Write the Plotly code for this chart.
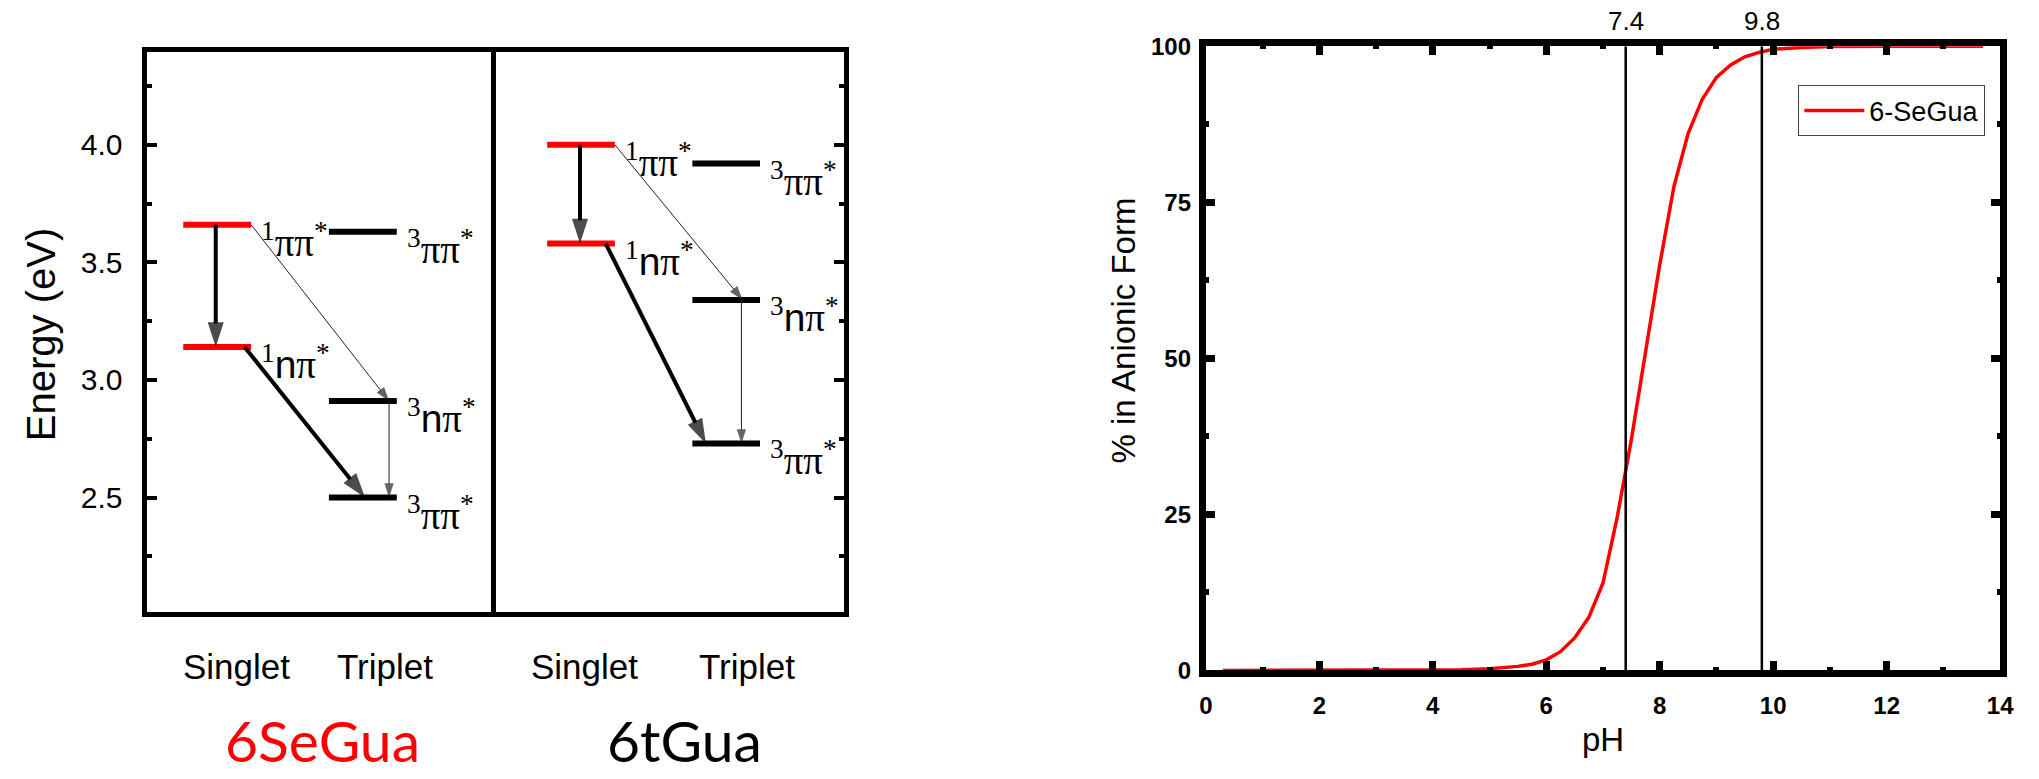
import plotly.graph_objects as go

# ---------------- data ----------------
columns = ["Singlet", "Triplet"]
compounds = ["6SeGua", "6tGua"]

# state labels: (multiplicity, kind)
singlet_states = [("1", "pp"), ("1", "np")]
triplet_states = [("3", "pp"), ("3", "np"), ("3", "pp")]

# energies (eV)
seg_singlet_E = [3.66, 3.14]
seg_triplet_E = [3.63, 2.91, 2.50]
tg_singlet_E = [4.00, 3.58]
tg_triplet_E = [3.92, 3.34, 2.73]

# transitions: (from column, from index, to column, to index, kind)
transitions = [
    ("S", 0, "S", 1, "thick"),
    ("S", 0, "T", 1, "thin"),
    ("T", 1, "T", 2, "thin"),
    ("S", 1, "T", 2, "thick"),
]

# pH curve
ph = [0.3, 1.0, 2.0, 3.0, 4.0, 4.5, 5.0, 5.25, 5.5, 5.75, 6.0, 6.25, 6.5, 6.75,
      7.0, 7.25, 7.5, 7.75, 8.0, 8.25, 8.5, 8.75, 9.0, 9.25, 9.5, 9.75, 10.0,
      10.5, 11.0, 12.0, 13.0, 13.7]
pct_anionic = [0.0, 0.0, 0.0, 0.0, 0.05, 0.12, 0.25, 0.4, 0.65, 1.0, 1.7, 3.0,
               5.2, 8.5, 14.0, 24.5, 37.0, 51.0, 65.0, 77.5, 86.0, 91.5, 95.0,
               97.0, 98.3, 99.0, 99.5, 99.8, 99.95, 100.0, 100.0, 100.0]
ref_ph = [7.4, 9.8]
ph_ticks = [0, 2, 4, 6, 8, 10, 12, 14]
pct_ticks = [0, 25, 50, 75, 100]
energy_ticks = [2.5, 3.0, 3.5, 4.0]

# ---------------- styling ----------------
W, H = 2039, 779
SANS = "Liberation Sans, Arial, sans-serif"
SERIF = "Liberation Serif, Times New Roman, serif"


def fx(p):
    return p / W


def fy(p):
    return 1 - p / H


HALF = 0.233  # half width of an energy level (column units)
panels = [
    dict(xa="x", ya="y", S=seg_singlet_E, T=seg_triplet_E,
         # arrow x-offsets (column units) for each transition: (start, end)
         offs=[(-0.01, -0.01), (HALF, 0.18), (0.18, 0.18), (0.188, 0.015)],
         lab_off=(0.13, 0.153), name_color="red", name_x=318.5),
    dict(xa="x2", ya="y2", S=tg_singlet_E, T=tg_triplet_E,
         offs=[(-0.007, -0.007), (HALF, 0.113), (0.105, 0.105), (0.17, -0.14)],
         lab_off=(0.024, 0.145), name_color="black", name_x=685),
]
col_x = {"S": 1.0, "T": 2.0}

fig = go.Figure()
annotations = []


def label_html(mult, kind):
    if kind == "pp":
        core = "ππ"
    else:
        core = "<span style='font-family:Liberation Sans'>n</span>π"
    return f"<sup>{mult}</sup>{core}<sup>*</sup>"


for pi, p in enumerate(panels):
    # energy levels
    for col, states, color in (("S", singlet_states, "red"), ("T", triplet_states, "black")):
        for k, (mult, kind) in enumerate(states):
            E = p[col][k]
            xc = col_x[col]
            fig.add_trace(go.Scatter(
                x=[xc - HALF, xc + HALF], y=[E, E], mode="lines",
                line=dict(color=color, width=6), xaxis=p["xa"], yaxis=p["ya"],
                showlegend=False, hoverinfo="skip"))
            annotations.append(dict(
                x=xc + HALF, y=E, xref=p["xa"], yref=p["ya"], xanchor="left",
                yanchor="middle", xshift=8, yshift=-15, showarrow=False,
                text=label_html(mult, kind),
                font=dict(family=SERIF, size=39, color="black")))
    # transitions
    for (c0, i0, c1, i1, kind), (o0, o1) in zip(transitions, p["offs"]):
        x0, y0 = col_x[c0] + o0, p[c0][i0]
        x1, y1 = col_x[c1] + o1, p[c1][i1]
        thick = kind == "thick"
        color = "black" if thick else "#222222"
        fig.add_trace(go.Scatter(
            x=[x0, x1], y=[y0, y1], mode="lines+markers",
            line=dict(color=color, width=4 if thick else 1),
            marker=dict(symbol="arrow", angleref="previous",
                        size=[0, 26 if thick else 15], color=color,
                        line=dict(width=0)),
            xaxis=p["xa"], yaxis=p["ya"], showlegend=False, hoverinfo="skip"))
    # column labels
    for ci, cname in enumerate(columns):
        annotations.append(dict(
            x=1.0 + ci + p["lab_off"][ci], y=fy(676), xref=p["xa"], yref="paper",
            xanchor="center", yanchor="middle", showarrow=False, text=cname,
            font=dict(family=SANS, size=35, color="black")))
    annotations.append(dict(
        x=fx(p["name_x"]), y=fy(752), xref="paper", yref="paper",
        xanchor="center", yanchor="middle", showarrow=False, text=compounds[pi],
        font=dict(family="Lato", size=57, color=p["name_color"])))

annotations.append(dict(
    x=fx(35), y=fy(332), xref="paper", yref="paper", textangle=-90,
    xanchor="center", yanchor="middle", showarrow=False, text="Energy (eV)",
    font=dict(family=SANS, size=40, color="black")))

# ---------------- pH chart ----------------
fig.add_trace(go.Scatter(
    x=ph, y=pct_anionic, mode="lines", name="6-SeGua",
    line=dict(color="#ff0000", width=3.5), xaxis="x3", yaxis="y3"))
for v in ref_ph:
    fig.add_trace(go.Scatter(
        x=[v, v], y=[0, 100], mode="lines", line=dict(color="black", width=2.5),
        xaxis="x3", yaxis="y3", showlegend=False, hoverinfo="skip"))
    annotations.append(dict(
        x=v, y=1, xref="x3", yref="y3 domain", xanchor="center", yanchor="bottom",
        yshift=8, showarrow=False, text=f"{v:.1f}",
        font=dict(family=SANS, size=26, color="black")))

annotations.append(dict(
    x=fx(1612.6), y=fy(752), xref="paper", yref="paper", xanchor="center",
    yanchor="middle", showarrow=False, text="pH",
    font=dict(family=SANS, size=33, color="black")))
annotations.append(dict(
    x=fx(1128), y=fy(327.5), xref="paper", yref="paper", textangle=-90,
    xanchor="center", yanchor="middle", showarrow=False, text="% in Anionic Form",
    font=dict(family=SANS, size=33, color="black")))

diag_y = dict(range=[2.013, 4.394], domain=[fy(619.5), fy(39.5)], showgrid=False,
              zeroline=False, showline=True, linewidth=5, linecolor="black",
              ticks="inside", ticklen=10, tickwidth=4, tickcolor="black",
              tickvals=energy_ticks, tickformat=".1f",
              minor=dict(ticks="inside", dtick=0.25, tick0=0, ticklen=5,
                         tickwidth=4, tickcolor="black"),
              fixedrange=True)
diag_x = dict(showgrid=False, zeroline=False, showline=True, linewidth=5,
              linecolor="black", mirror=True, ticks="", showticklabels=False,
              fixedrange=True)

ph_axis_common = dict(showgrid=False, zeroline=False, showline=True, linewidth=7,
                      linecolor="black", mirror="ticks", ticks="inside",
                      ticklen=9, tickwidth=7, tickcolor="black",
                      tickfont=dict(family=SANS, size=24, color="black",
                                    weight="bold"),
                      fixedrange=True)

fig.update_layout(
    width=W, height=H, autosize=False,
    margin=dict(l=0, r=0, t=0, b=0),
    paper_bgcolor="white", plot_bgcolor="white",
    showlegend=True,
    xaxis=dict(domain=[fx(141), fx(489.5)], range=[0.515, 2.883], anchor="y", **diag_x),
    yaxis=dict(anchor="x", side="left", mirror=False, showticklabels=True,
               ticklabelstandoff=13,
               tickfont=dict(family=SANS, size=30, color="black"), **diag_y),
    xaxis2=dict(domain=[fx(494.5), fx(845.5)], range=[0.4172, 2.810], anchor="y2", **diag_x),
    yaxis2=dict(anchor="x2", side="right", mirror=True, showticklabels=False, **diag_y),
    xaxis3=dict(domain=[fx(1211.3), fx(2013.9)], range=[0, 14], anchor="y3",
                tickvals=ph_ticks, ticklabelstandoff=8,
                minor=dict(ticks="inside", dtick=1, tick0=0, ticklen=3, tickwidth=6,
                           tickcolor="black"),
                **ph_axis_common),
    yaxis3=dict(domain=[fy(680), fy(33.3)], range=[0, 100], anchor="x3",
                tickvals=pct_ticks, ticklabelstandoff=3,
                minor=dict(ticks="inside", dtick=12.5, tick0=0, ticklen=3,
                           tickwidth=6, tickcolor="black"),
                **ph_axis_common),
    legend=dict(x=fx(1810), y=fy(74), xanchor="left", yanchor="top",
                bordercolor="#444444", borderwidth=1, bgcolor="white",
                font=dict(family=SANS, size=27, color="black"), itemwidth=60),
    annotations=annotations,
)

fig.write_html("out.html")
